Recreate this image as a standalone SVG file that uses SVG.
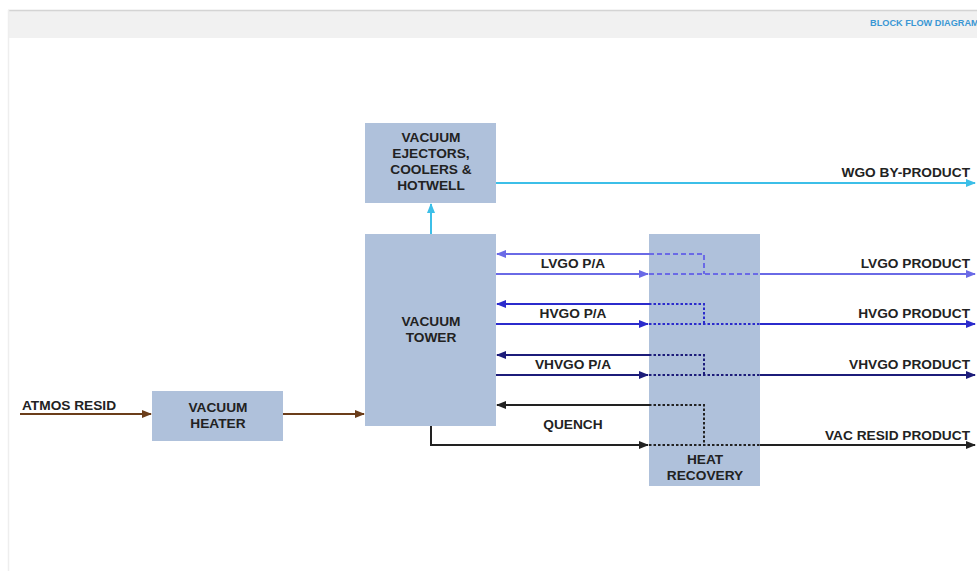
<svg xmlns="http://www.w3.org/2000/svg" width="977" height="571" viewBox="0 0 977 571">
<style>
.box{fill:#afc1db}
.t{font-family:"Liberation Sans",Arial,sans-serif;font-weight:bold;font-size:13.7px;fill:#222}
.c{text-anchor:middle}
.r{text-anchor:end}
.ln{fill:none;stroke-width:2}
.dash{stroke-dasharray:5 3}
.dot{stroke-dasharray:2.5 2}
</style>
<defs>
<marker id="aBr" viewBox="0 0 10 10" refX="9" refY="5" markerWidth="5" markerHeight="5" orient="auto"><path d="M0,1 L10,5 L0,9z" fill="#6b3d1a"/></marker>
<marker id="aCy" viewBox="0 0 10 10" refX="9" refY="5" markerWidth="5" markerHeight="5" orient="auto"><path d="M0,1 L10,5 L0,9z" fill="#3cbfe8"/></marker>
<marker id="aL" viewBox="0 0 10 10" refX="9" refY="5" markerWidth="5" markerHeight="5" orient="auto"><path d="M0,1 L10,5 L0,9z" fill="#6a6ae6"/></marker>
<marker id="aH" viewBox="0 0 10 10" refX="9" refY="5" markerWidth="5" markerHeight="5" orient="auto"><path d="M0,1 L10,5 L0,9z" fill="#2b2bcc"/></marker>
<marker id="aV" viewBox="0 0 10 10" refX="9" refY="5" markerWidth="5" markerHeight="5" orient="auto"><path d="M0,1 L10,5 L0,9z" fill="#1c1c7a"/></marker>
<marker id="aK" viewBox="0 0 10 10" refX="9" refY="5" markerWidth="5" markerHeight="5" orient="auto"><path d="M0,1 L10,5 L0,9z" fill="#222"/></marker>
</defs>
<rect width="977" height="571" fill="#fff"/>
<g id="header">
<rect x="8" y="10" width="969" height="28" fill="#f1f1f1"/>
<line x1="8" y1="10.5" x2="977" y2="10.5" stroke="#d4d4d4" stroke-width="1.5"/>
<line x1="8.5" y1="10" x2="8.5" y2="571" stroke="#eeeeee" stroke-width="1.5"/>
<text x="870" y="26" font-family="'Liberation Sans',Arial,sans-serif" font-weight="bold" font-size="9.2" fill="#3a97d4">BLOCK FLOW DIAGRAM</text>
</g>
<g id="ejectors">
<rect class="box" x="365" y="123" width="131" height="80"/>
<text class="t c" x="431" y="142">VACUUM</text>
<text class="t c" x="431" y="158">EJECTORS,</text>
<text class="t c" x="431" y="174">COOLERS &amp;</text>
<text class="t c" x="431" y="190">HOTWELL</text>
</g>
<g id="tower">
<rect class="box" x="365" y="234" width="131" height="192"/>
<text class="t c" x="431" y="326">VACUUM</text>
<text class="t c" x="431" y="342">TOWER</text>
</g>
<g id="heater">
<rect class="box" x="152" y="391" width="131" height="50"/>
<text class="t c" x="218" y="412">VACUUM</text>
<text class="t c" x="218" y="428">HEATER</text>
</g>
<g id="heatrecovery">
<rect class="box" x="649" y="234" width="111" height="252"/>
<text class="t c" x="705" y="464">HEAT</text>
<text class="t c" x="705" y="480">RECOVERY</text>
</g>
<g id="connectors">
<line class="ln" stroke="#6b3d1a" x1="20" y1="414" x2="151" y2="414" marker-end="url(#aBr)"/>
<line class="ln" stroke="#6b3d1a" x1="283" y1="414" x2="364" y2="414" marker-end="url(#aBr)"/>
<line class="ln" stroke="#3cbfe8" x1="431" y1="234" x2="431" y2="204" marker-end="url(#aCy)"/>
<line class="ln" stroke="#3cbfe8" x1="496" y1="183" x2="975" y2="183" marker-end="url(#aCy)"/>
<g stroke="#6a6ae6">
<path class="ln dash" d="M649,254 H704 V274 M649,274 H760"/>
<line class="ln" x1="649" y1="254" x2="497" y2="254" marker-end="url(#aL)"/>
<line class="ln" x1="496" y1="274" x2="648" y2="274" marker-end="url(#aL)"/>
<line class="ln" x1="760" y1="274" x2="975" y2="274" marker-end="url(#aL)"/>
</g>
<g stroke="#2b2bcc">
<path class="ln dot" d="M649,304 H704 V324 M649,324 H760"/>
<line class="ln" x1="649" y1="304" x2="497" y2="304" marker-end="url(#aH)"/>
<line class="ln" x1="496" y1="324" x2="648" y2="324" marker-end="url(#aH)"/>
<line class="ln" x1="760" y1="324" x2="975" y2="324" marker-end="url(#aH)"/>
</g>
<g stroke="#1c1c7a">
<path class="ln dot" d="M649,355 H704 V375 M649,375 H760"/>
<line class="ln" x1="649" y1="355" x2="497" y2="355" marker-end="url(#aV)"/>
<line class="ln" x1="496" y1="375" x2="648" y2="375" marker-end="url(#aV)"/>
<line class="ln" x1="760" y1="375" x2="975" y2="375" marker-end="url(#aV)"/>
</g>
<g stroke="#222">
<path class="ln dot" d="M649,405 H704 V445 M649,445 H760"/>
<line class="ln" x1="649" y1="405" x2="497" y2="405" marker-end="url(#aK)"/>
<path class="ln" d="M431,426 V445 H648" marker-end="url(#aK)"/>
<line class="ln" x1="760" y1="445" x2="975" y2="445" marker-end="url(#aK)"/>
</g>
</g>
<g id="labels">
<text class="t" x="22" y="410">ATMOS RESID</text>
<text class="t r" x="970" y="177">WGO BY-PRODUCT</text>
<text class="t c" x="573" y="268">LVGO P/A</text>
<text class="t c" x="573" y="318">HVGO P/A</text>
<text class="t c" x="573" y="369">VHVGO P/A</text>
<text class="t c" x="573" y="429">QUENCH</text>
<text class="t r" x="970" y="268">LVGO PRODUCT</text>
<text class="t r" x="970" y="318">HVGO PRODUCT</text>
<text class="t r" x="970" y="369">VHVGO PRODUCT</text>
<text class="t r" x="970" y="440">VAC RESID PRODUCT</text>
</g>
</svg>
